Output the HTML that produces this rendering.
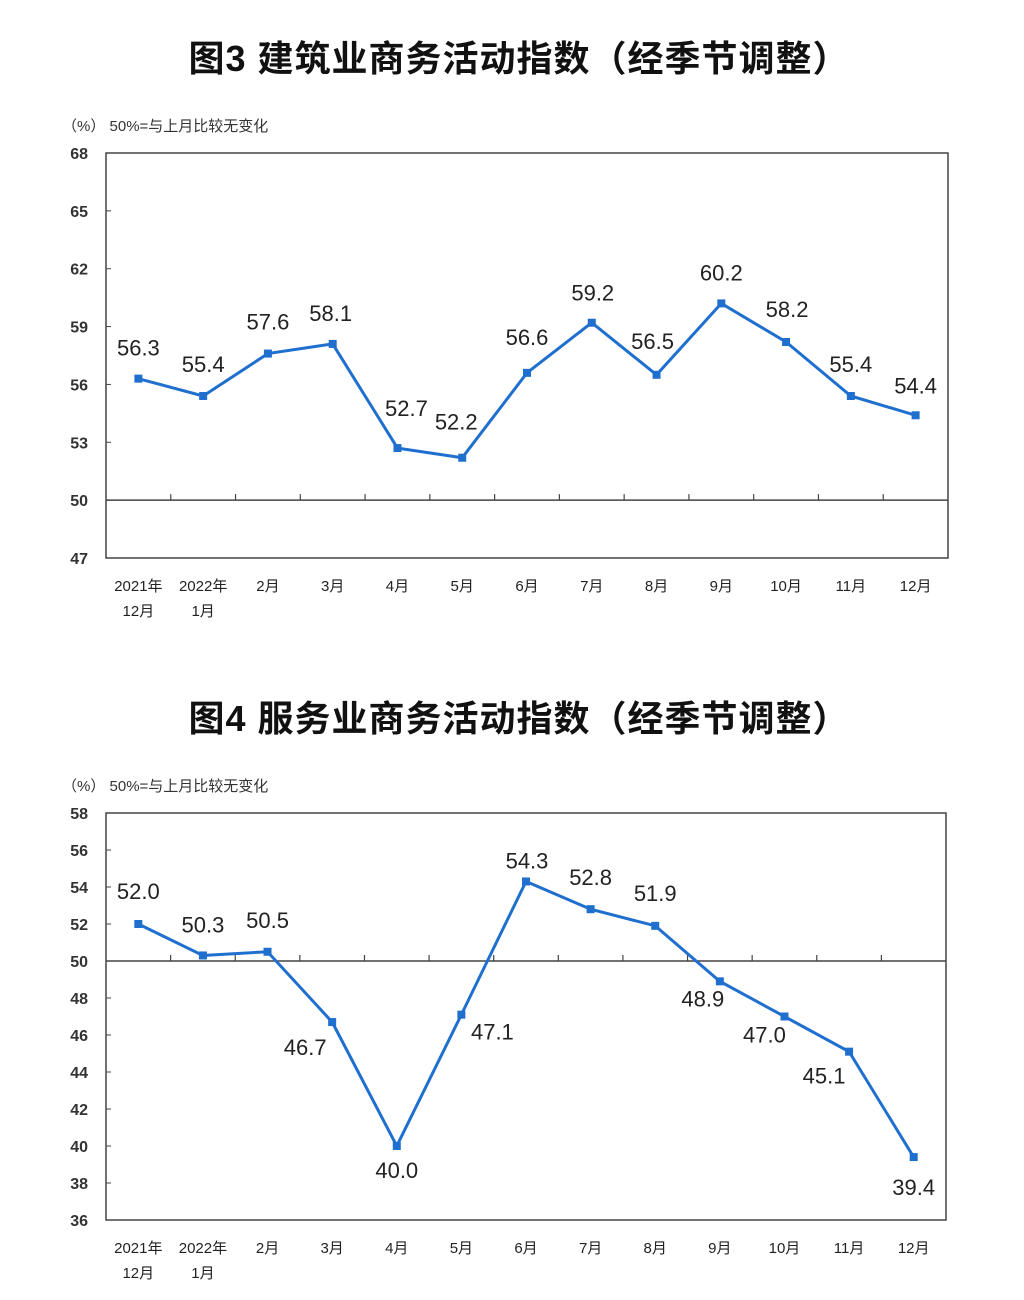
<!DOCTYPE html>
<html><head><meta charset="utf-8"><style>
html,body{margin:0;padding:0;background:#fff;width:1024px;height:1300px;overflow:hidden}
svg{display:block;font-family:"Liberation Sans","Noto Sans CJK SC",sans-serif}
</style></head><body>
<svg id="svg" width="1024" height="1300" viewBox="0 0 1024 1300">
<text x="519" y="71" text-anchor="middle" font-size="36" font-weight="600" letter-spacing="1" fill="#111">图3  建筑业商务活动指数（经季节调整）</text>
<text x="519" y="731" text-anchor="middle" font-size="36" font-weight="600" letter-spacing="1" fill="#111">图4  服务业商务活动指数（经季节调整）</text>
</svg>
<script>
const categories1 = ["2021年|12月","2022年|1月","2月","3月","4月","5月","6月","7月","8月","9月","10月","11月","12月"];
const values1 = [56.3,55.4,57.6,58.1,52.7,52.2,56.6,59.2,56.5,60.2,58.2,55.4,54.4];
const ticks1 = [47,50,53,56,59,62,65,68];
const values2 = [52.0,50.3,50.5,46.7,40.0,47.1,54.3,52.8,51.9,48.9,47.0,45.1,39.4];
const ticks2 = [36,38,40,42,44,46,48,50,52,54,56,58];
const labelDx1=[0,0,0,-2,9,-6,0,1,-4,0,1,0,0], labelDy1=[-31,-32,-32,-31,-40,-36,-36,-30,-34,-31,-33,-32,-30];
const labelDx2=[0,0,0,-27,0,31,1,0,0,-17,-20,-25,0], labelDy2=[-33,-31,-32,25,24,17,-21,-32,-33,17,18,24,30];
const NS="http://www.w3.org/2000/svg", svg=document.getElementById('svg');
function mk(t,a,txt){const e=document.createElementNS(NS,t);for(const k in a)e.setAttribute(k,a[k]);if(txt!=null)e.textContent=txt;svg.appendChild(e);return e;}
function chart(p,vals,ticks,dx,dy){
  const L=106,R=p.R,T=p.T,B=p.B,min=ticks[0],max=ticks[ticks.length-1];
  const y=v=>B-(v-min)/(max-min)*(B-T);
  const step=(R-L)/vals.length, x=i=>L+step*(i+0.5);
  let e=mk('text',{x:62,y:T-22,'font-size':15,fill:'#333'},'（%）    50%=与上月比较无变化');
  
  
  e=mk('rect',{x:L,y:T,width:R-L,height:B-T,fill:'none',stroke:'#444','stroke-width':1.5});
  
  
  const y50=y(50);
  e=mk('line',{x1:L,x2:R,y1:y50,y2:y50,stroke:'#444','stroke-width':1.5});
  
  
  for(let i=1;i<vals.length;i++){e=mk('line',{x1:L+step*i,x2:L+step*i,y1:y50,y2:y50-6,stroke:'#444','stroke-width':1.2});
    
    }
  ticks.forEach(t=>{
    e=mk('line',{x1:L,x2:L+5,y1:y(t),y2:y(t),stroke:'#444'});
    
    
    e=mk('text',{x:88,y:y(t)+6,'text-anchor':'end','font-size':16,'font-weight':'bold',fill:'#333'},t);
    
    
  });
  categories1.forEach((c,i)=>{
    c.split('|').forEach((s,j)=>{
      e=mk('text',{x:x(i),y:B+33+j*25,'text-anchor':'middle','font-size':15,fill:'#222'},s);
      
      
    });
  });
  e=mk('polyline',{points:vals.map((v,i)=>x(i)+','+y(v)).join(' '),fill:'none',stroke:'#1f6fcf','stroke-width':3});
  
  
  vals.forEach((v,i)=>{
    e=mk('rect',{x:x(i)-4,y:y(v)-4,width:8,height:8,fill:'#1f6fcf'});
    
    
    e=mk('text',{x:x(i)+dx[i],y:y(v)+dy[i]+8,'text-anchor':'middle','font-size':22,fill:'#222'},v.toFixed(1));
    
    
  });
}
chart({id:'chart1',R:948,T:153,B:558},values1,ticks1,labelDx1,labelDy1);
chart({id:'chart2',R:946,T:813,B:1220},values2,ticks2,labelDx2,labelDy2);
</script>
</body></html>
